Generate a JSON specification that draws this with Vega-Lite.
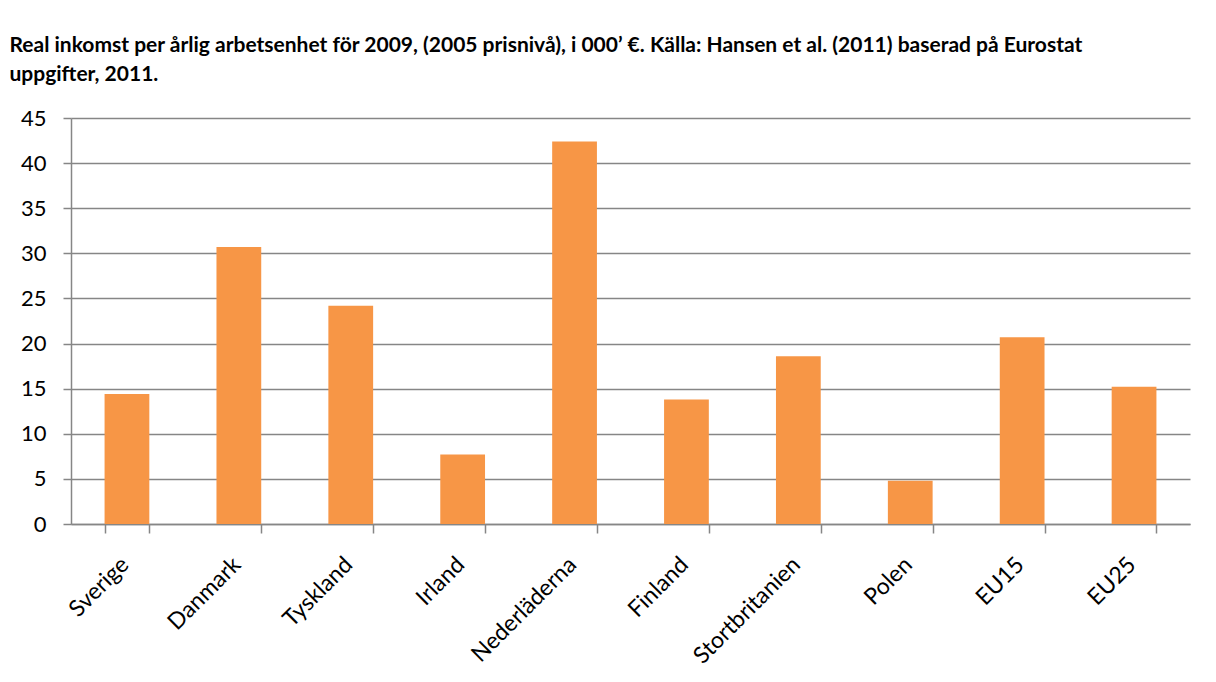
{
  "$schema": "https://vega.github.io/schema/vega-lite/v6.json",
  "width": 1119,
  "height": 406,
  "autosize": {"type": "none"},
  "padding": {"left": 71, "top": 118, "right": 26, "bottom": 158},
  "background": "white",
  "title": {
    "text": [
      "Real inkomst per årlig arbetsenhet för 2009, (2005 prisnivå), i 000’ €. Källa: Hansen et al. (2011) baserad på Eurostat",
      "uppgifter, 2011."
    ],
    "anchor": "start",
    "dx": -11,
    "offset": 22,
    "font": "Lato",
    "fontSize": 21,
    "fontWeight": "bold",
    "color": "#000000",
    "lineHeight": 29
  },
  "data": {
    "values": [
      {"land": "Sverige", "inkomst": 14.4},
      {"land": "Danmark", "inkomst": 30.7},
      {"land": "Tyskland", "inkomst": 24.2},
      {"land": "Irland", "inkomst": 7.7},
      {"land": "Nederläderna", "inkomst": 42.4},
      {"land": "Finland", "inkomst": 13.8},
      {"land": "Stortbritanien", "inkomst": 18.6},
      {"land": "Polen", "inkomst": 4.8},
      {"land": "EU15", "inkomst": 20.7},
      {"land": "EU25", "inkomst": 15.2}
    ]
  },
  "mark": {"type": "bar", "color": "#F79646"},
  "encoding": {
    "x": {
      "field": "land",
      "type": "nominal",
      "sort": null,
      "scale": {"paddingInner": 0.6, "paddingOuter": 0.3},
      "axis": {
        "title": null,
        "labelAngle": -45,
        "labelFont": "Lato",
        "labelFontSize": 23,
        "labelColor": "#000000",
        "labelPadding": 20,
        "labelOffset": -10,
        "tickBand": "extent",
        "tickSize": 9,
        "tickColor": "#868686",
        "tickWidth": 1.5,
        "domainColor": "#868686",
        "domainWidth": 1.5,
        "grid": false
      }
    },
    "y": {
      "field": "inkomst",
      "type": "quantitative",
      "scale": {"domain": [0, 45], "nice": false},
      "axis": {
        "title": null,
        "values": [0, 5, 10, 15, 20, 25, 30, 35, 40, 45],
        "labelFont": "Lato",
        "labelFontSize": 22,
        "labelColor": "#000000",
        "labelPadding": 17,
        "tickSize": 8,
        "tickColor": "#868686",
        "tickWidth": 1.5,
        "domainColor": "#868686",
        "domainWidth": 1.5,
        "grid": true,
        "gridColor": "#868686",
        "gridWidth": 1.5
      }
    }
  },
  "config": {"view": {"stroke": null}}
}
